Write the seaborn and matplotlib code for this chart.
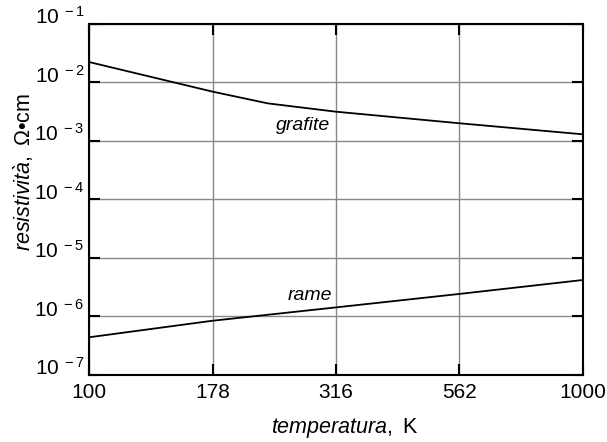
import numpy as np
import pandas as pd
import seaborn as sns
import matplotlib
matplotlib.use("Agg")
import matplotlib.pyplot as plt

# values (log-log)
temperature = [100, 178, 230, 316, 562, 1000]
rho_grafite = [2.24e-2, 6.97e-3, 4.4e-3, 3.17e-3, 2.01e-3, 1.30e-3]
temperature_rame = [100, 178, 316, 562, 1000]
rho_rame = [4.41e-7, 8.47e-7, 1.43e-6, 2.43e-6, 4.21e-6]

x_ticks = [100, 178, 316, 562, 1000]
y_exponents = [-7, -6, -5, -4, -3, -2, -1]

df = pd.concat([
    pd.DataFrame({"T": temperature, "rho": rho_grafite, "mat": "grafite"}),
    pd.DataFrame({"T": temperature_rame, "rho": rho_rame, "mat": "rame"}),
])

sns.set_style("ticks")
plt.rcParams['font.family'] = ['Liberation Sans', 'DejaVu Sans']
plt.rcParams['mathtext.fontset'] = 'custom'
plt.rcParams['mathtext.rm'] = 'Liberation Sans'
plt.rcParams['mathtext.it'] = 'Liberation Sans:italic'
for k in ['text.color', 'axes.labelcolor', 'xtick.color', 'ytick.color']:
    plt.rcParams[k] = 'black'

fig = plt.figure(figsize=(6.07, 4.42), dpi=100)
ax = fig.add_axes([0.1466, 0.1516, 0.8139, 0.7941])

sns.lineplot(data=df, x="T", y="rho", units="mat", estimator=None,
             color="black", lw=1.3, ax=ax, zorder=3)

ax.set_xscale("log")
ax.set_yscale("log")
ax.set_xlim(100, 1000)
ax.set_ylim(1e-7, 1e-1)

ax.set_xticks(x_ticks)
ax.set_xticklabels([str(t) for t in x_ticks])
ax.xaxis.set_minor_locator(matplotlib.ticker.NullLocator())
ax.set_yticks([10.0 ** e for e in y_exponents])
ax.set_yticklabels([r"10$^{\ %d}$" % e for e in y_exponents])
ax.yaxis.set_minor_locator(matplotlib.ticker.NullLocator())
for lab in ax.get_yticklabels():
    lab.set_va("baseline")

ax.grid(True, color="#888888", lw=1.0)
ax.tick_params(direction="in", length=8, width=1.5, top=True, right=True,
               labelsize=15, pad=3)
ax.tick_params(axis="x", pad=6)
for s in ax.spines.values():
    s.set_linewidth(1.5)
    s.set_color("black")

ax.set_xlabel(r"$\mathit{temperatura,}$ K", fontsize=15.5, va="center")
ax.xaxis.set_label_coords(0.518, -0.150)
ax.set_ylabel(r"$\mathit{resistivit\`a,}$ Ω•cm", fontsize=15.5, va="center")
ax.yaxis.set_label_coords(-0.132, 0.578)

ax.text(308, 1.87e-3, "grafite", style="italic", fontsize=14,
        ha="right", va="center")
ax.text(311, 2.33e-6, "rame", style="italic", fontsize=14,
        ha="right", va="center")

if ax.get_legend() is not None:
    ax.get_legend().remove()

fig.savefig("out.png", dpi=100)
